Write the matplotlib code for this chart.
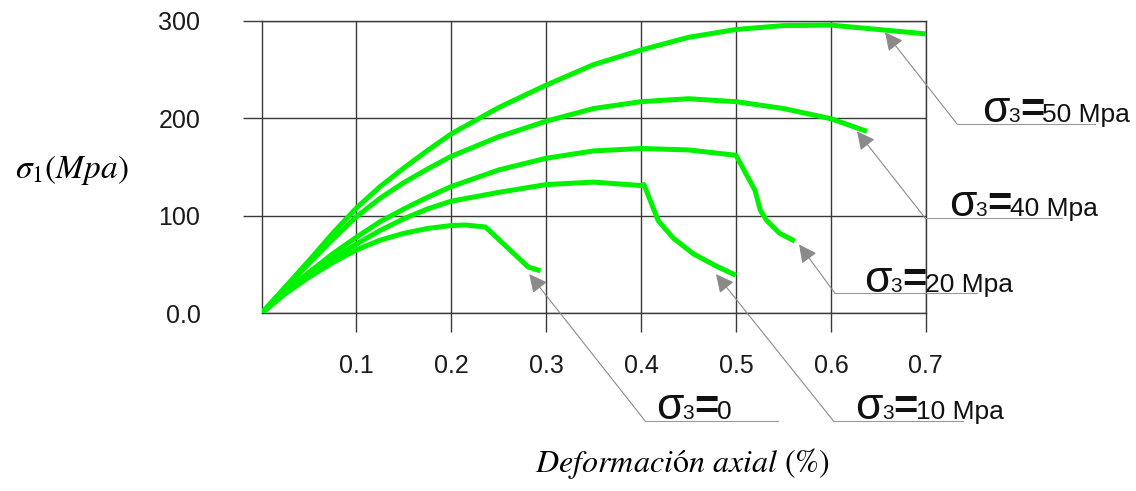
import matplotlib.pyplot as plt
from matplotlib.transforms import IdentityTransform

plt.rcParams['font.family'] = 'Liberation Sans'
plt.rcParams['mathtext.fontset'] = 'stix'

# confining pressure of each test (MPa)
sigma3 = [0, 10, 20, 40, 50]

# axial strain (%) and deviator stress sigma_1 (MPa) for each test
strain_0 = [0, 0.025, 0.05, 0.075, 0.1, 0.125, 0.15, 0.175, 0.2, 0.215, 0.236, 0.281, 0.294]
stress_0 = [0, 20, 37, 52, 65, 75, 82, 87, 90, 90.5, 88.5, 47.5, 43.5]

strain_10 = [0, 0.025, 0.05, 0.075, 0.1, 0.125, 0.15, 0.175, 0.2, 0.25, 0.3, 0.35, 0.4,
             0.403, 0.418, 0.434, 0.455, 0.48, 0.5]
stress_10 = [0, 21, 39, 56, 71, 85, 97, 107, 115, 124, 132, 134.5, 131,
             132, 95, 77, 61, 48, 39]

strain_20 = [0, 0.025, 0.05, 0.075, 0.1, 0.125, 0.15, 0.175, 0.2, 0.25, 0.3, 0.35, 0.4,
             0.45, 0.5, 0.52, 0.5255, 0.532, 0.546, 0.562]
stress_20 = [0, 23, 42, 61, 78, 94, 107, 119, 130, 147, 159, 166.5, 169,
             167.5, 162, 126, 106, 95.5, 82, 74]

strain_40 = [0, 0.025, 0.05, 0.075, 0.1, 0.125, 0.15, 0.175, 0.2, 0.25, 0.3, 0.35, 0.4,
             0.45, 0.5, 0.55, 0.6, 0.638]
stress_40 = [0, 26, 51, 76, 99, 118, 134, 148, 161, 181, 197, 210, 217,
             220, 217, 210, 199.5, 186.5]

strain_50 = [0, 0.025, 0.05, 0.075, 0.1, 0.125, 0.15, 0.175, 0.2, 0.25, 0.3, 0.35, 0.4,
             0.45, 0.5, 0.55, 0.6, 0.65, 0.7]
stress_50 = [0, 27, 54, 82, 108, 130, 149, 167, 184, 211, 234, 255, 270,
             283, 291, 295, 295.5, 291, 286.5]

strains = [strain_0, strain_10, strain_20, strain_40, strain_50]
stresses = [stress_0, stress_10, stress_20, stress_40, stress_50]

xticks = [0.1, 0.2, 0.3, 0.4, 0.5, 0.6, 0.7]
xticklabels = ['0.1', '0.2', '0.3', '0.4', '0.5', '0.6', '0.7']
yticks = [0, 100, 200, 300]
yticklabels = ['0.0', '100', '200', '300']

# leader lines: arrow tip, elbow, end of the underline (data units), text shift (px)
tips = [(0.2822, 40.2), (0.4789, 40.2), (0.5664, 70.6), (0.6275, 186.6), (0.657, 288.2)]
elbows = [(0.4041, -110.2), (0.6025, -110.2), (0.6043, 20.5), (0.6992, 97.8), (0.7326, 194.5)]
line_ends = [0.5439, 0.7395, 0.7536, 0.8432, 0.8783]
text_dx = [11, 22, 29, 24, 25]

fig = plt.figure(figsize=(11.36, 4.91), dpi=100)
ax = fig.add_axes([0.2302, 0.3619, 0.5848, 0.5959])

for x, y in zip(strains, stresses):
    ax.plot(x, y, color='#00f200', lw=3.6, solid_capstyle='butt',
            solid_joinstyle='round', zorder=3)

ax.set_xlim(0, 0.7)
ax.set_ylim(0, 300)
ax.set_xticks(xticks)
ax.set_xticklabels(xticklabels)
ax.set_yticks(yticks)
ax.set_yticklabels(yticklabels)
ax.yaxis.get_major_ticks()[0].tick1line.set_visible(False)

grid_col = '#3a3a3a'
ax.grid(True, color=grid_col, lw=1.0)
for s in ax.spines.values():
    s.set_color(grid_col)
    s.set_linewidth(1.0)
ax.tick_params(direction='out', length=14, width=1.0, color=grid_col,
               labelsize=18, labelcolor='#1a1a1a')
ax.tick_params(axis='x', pad=15)
ax.tick_params(axis='y', pad=30)

fig.text(0.063, 0.654, r'$\sigma_1(Mpa)$', fontsize=24, ha='center', va='center')
fig.text(0.6004, 0.057, r'$Deformaci$ó$n$ $axial$ (%)', family='STIXGeneral',
         fontsize=23, ha='center', va='center')

# leader lines with the sigma_3 labels
renderer = fig.canvas.get_renderer()
for s3, tip, elbow, xe, dx in zip(sigma3, tips, elbows, line_ends, text_dx):
    ax.plot([elbow[0], xe], [elbow[1], elbow[1]], color='#9a9a9a', lw=0.8,
            clip_on=False, zorder=4)
    ax.annotate('', xy=tip, xytext=elbow, annotation_clip=False,
                arrowprops=dict(arrowstyle='-|>,head_length=1.1,head_width=0.55',
                                color='#8a8a8a', lw=0.8, shrinkA=0, shrinkB=0,
                                mutation_scale=10))
    value = '0' if s3 == 0 else '%d Mpa' % s3
    parts = [('σ', 32, 'normal', -1), ('3', 15, 'normal', 0),
             ('=', 30, 'bold', -2), (value, 19, 'normal', 0)]
    bx, by = ax.transData.transform(elbow)
    x = bx + dx
    for txt, size, weight, gap in parts:
        t = fig.text(x, by + 1.5, txt, transform=IdentityTransform(), fontsize=size,
                     weight=weight, ha='left', va='baseline', color='#111111')
        x += t.get_window_extent(renderer).width + gap

fig.savefig('out.png', dpi=100)
